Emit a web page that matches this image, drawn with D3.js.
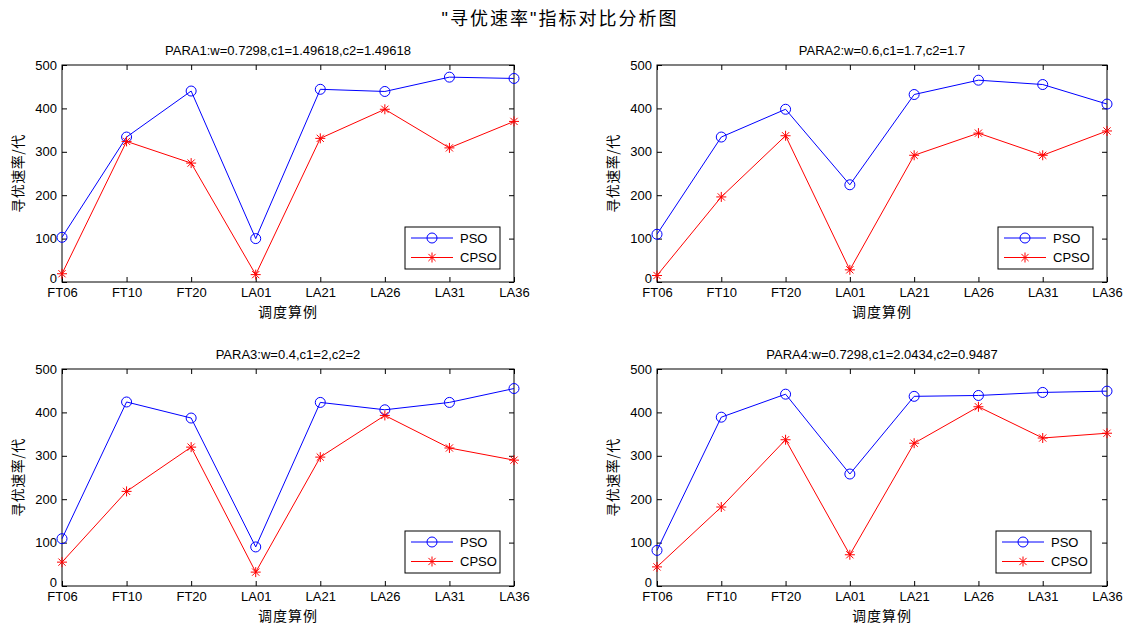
<!DOCTYPE html>
<html><head><meta charset="utf-8">
<script src="https://cdn.jsdelivr.net/npm/d3@7"></script>
<style>
body{margin:0;background:#fff;}
svg text{font-family:"Liberation Sans","Noto Sans CJK SC",sans-serif;fill:#000;}
</style></head>
<body>
<svg id="chart" width="1137" height="629"></svg>
<script>
const categories = ["FT06","FT10","FT20","LA01","LA21","LA26","LA31","LA36"];
const yTicks = [0,100,200,300,400,500];
const panelTitles = [
  "PARA1:w=0.7298,c1=1.49618,c2=1.49618",
  "PARA2:w=0.6,c1=1.7,c2=1.7",
  "PARA3:w=0.4,c1=2,c2=2",
  "PARA4:w=0.7298,c1=2.0434,c2=0.9487"
];
const seriesNames = ["PSO","CPSO"];
const pso1  = [103,334,440,100,444,439,472,469];
const cpso1 = [19,324,274,17,331,398,309,370];
const pso2  = [110,334,398,224,432,465,455,410];
const cpso2 = [15,196,337,28,292,343,292,348];
const pso3  = [109,424,387,90,423,406,423,455];
const cpso3 = [55,218,320,32,297,393,318,290];
const pso4  = [82,389,442,258,437,439,446,449];
const cpso4 = [44,182,337,72,329,413,341,352];
const mainTitle = "\"寻优速率\"指标对比分析图";
const xLabel = "调度算例";
const yLabel = "寻优速率/代";

const psoData = [pso1,pso2,pso3,pso4];
const cpsoData = [cpso1,cpso2,cpso3,cpso4];

const svg = d3.select("#chart");
svg.append("text").attr("x",560).attr("y",25).attr("text-anchor","middle")
  .style("font-size","18px").style("letter-spacing","2px").text(mainTitle);

const panels = [
  {x:62, y:65, w:452, h:217},
  {x:657, y:65, w:450, h:217},
  {x:62, y:369, w:452, h:217},
  {x:657, y:369, w:450, h:217}
];
const blue = "#0000ff", red = "#ff0000";

function star(g, cx, cy, s){
  const p = d3.path();
  p.moveTo(cx-s,cy); p.lineTo(cx+s,cy);
  p.moveTo(cx,cy-s); p.lineTo(cx,cy+s);
  const d = s*0.72;
  p.moveTo(cx-d,cy-d); p.lineTo(cx+d,cy+d);
  p.moveTo(cx-d,cy+d); p.lineTo(cx+d,cy-d);
  g.append("path").attr("d",p.toString()).attr("stroke",red).attr("stroke-width",1).attr("fill","none");
}

panels.forEach((pn,i)=>{
  const g = svg.append("g").attr("transform",`translate(${pn.x},${pn.y})`);
  const x = d3.scalePoint().domain(categories).range([0,pn.w]);
  const y = d3.scaleLinear().domain([0,500]).range([pn.h,0]);
  const tl = 5;
  g.append("rect").attr("width",pn.w).attr("height",pn.h).attr("fill","#fff").attr("stroke","#000").attr("stroke-width",1);
  const xb = g.append("g").attr("transform",`translate(0,${pn.h})`)
    .call(d3.axisBottom(x).tickSizeInner(-tl).tickSizeOuter(0).tickPadding(6));
  const xt = g.append("g").call(d3.axisTop(x).tickSizeInner(-tl).tickSizeOuter(0).tickFormat(""));
  const yl = g.append("g").call(d3.axisLeft(y).tickValues(yTicks).tickSizeInner(-tl).tickSizeOuter(0).tickPadding(5));
  const yr = g.append("g").attr("transform",`translate(${pn.w},0)`)
    .call(d3.axisRight(y).tickValues(yTicks).tickSizeInner(-tl).tickSizeOuter(0).tickFormat(""));
  [xb,xt,yl,yr].forEach(a=>{
    a.select(".domain").remove();
    a.selectAll("line").attr("stroke","#000");
    a.selectAll("text").style("font-size","13px").style("font-family","'Liberation Sans',sans-serif").attr("fill","#000");
  });
  xb.selectAll("text").attr("dy","0.71em");
  yl.selectAll(".tick").filter(d=>d===0).select("text").attr("dy","0.02em");
  const line = d3.line().x((d,j)=>x(categories[j])).y(d=>y(d));
  g.append("path").datum(psoData[i]).attr("d",line).attr("fill","none").attr("stroke",blue).attr("stroke-width",1);
  g.append("path").datum(cpsoData[i]).attr("d",line).attr("fill","none").attr("stroke",red).attr("stroke-width",1);
  psoData[i].forEach((v,j)=>{
    g.append("circle").attr("cx",x(categories[j])).attr("cy",y(v)).attr("r",5)
      .attr("fill","none").attr("stroke",blue).attr("stroke-width",1);
  });
  cpsoData[i].forEach((v,j)=>{ star(g, x(categories[j]), y(v), 5); });
  g.append("text").attr("x",pn.w/2).attr("y",-10).attr("text-anchor","middle")
    .style("font-size","13px").text(panelTitles[i]);
  g.append("text").attr("x",pn.w/2).attr("y",pn.h+34.5).attr("text-anchor","middle")
    .style("font-size","14px").style("letter-spacing","1px").style("font-family","'Noto Sans CJK SC',sans-serif").text(xLabel);
  g.append("text").attr("transform",`translate(-39,${pn.h/2}) rotate(-90)`).attr("text-anchor","middle")
    .style("font-size","14px").style("letter-spacing","0.5px").style("font-family","'Noto Sans CJK SC',sans-serif").text(yLabel);
  const lx = pn.w - 109 + (i===3?-2:0), ly = 162;
  const lg = g.append("g").attr("transform",`translate(${lx},${ly})`);
  lg.append("rect").attr("width",95).attr("height",42).attr("fill","#fff").attr("stroke","#000").attr("stroke-width",1);
  seriesNames.forEach((nm,k)=>{
    const yy = 11 + k*19.5;
    lg.append("line").attr("x1",6).attr("x2",48).attr("y1",yy).attr("y2",yy)
      .attr("stroke",k===0?blue:red).attr("stroke-width",1);
    if(k===0) lg.append("circle").attr("cx",27).attr("cy",yy).attr("r",5).attr("fill","none").attr("stroke",blue);
    else star(lg,27,yy,5);
    lg.append("text").attr("x",55).attr("y",yy).attr("dy","0.35em").style("font-size","13px").text(nm);
  });
});
</script>
</body></html>
